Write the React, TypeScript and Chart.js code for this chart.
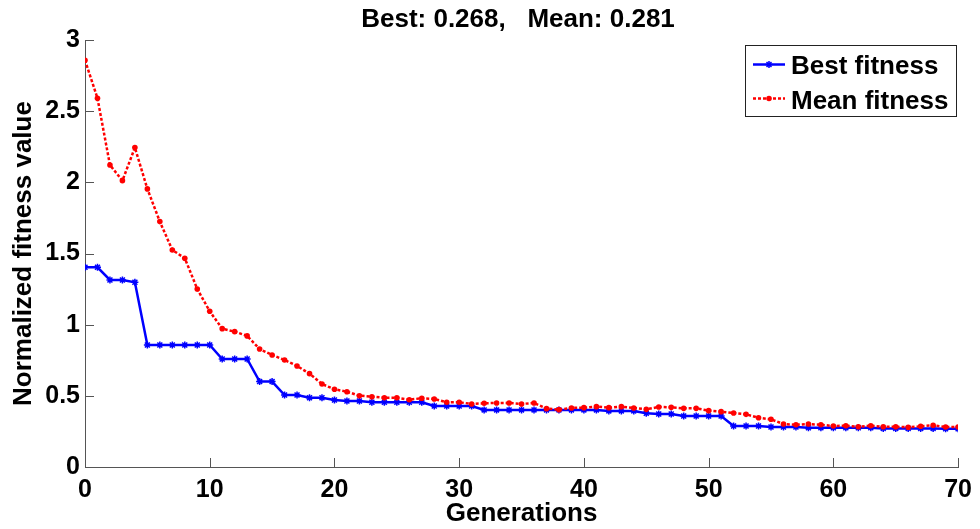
import React, { useEffect, useRef } from "react";
import { Chart, registerables } from "chart.js";

Chart.register(...registerables);

const generations: number[] = Array.from({ length: 71 }, (_, i) => i);

const bestFitness: number[] = [
  1.403, 1.403, 1.314, 1.314, 1.298, 0.857, 0.857, 0.857, 0.857, 0.857,
  0.857, 0.759, 0.759, 0.759, 0.6, 0.6, 0.506, 0.506, 0.487, 0.487,
  0.471, 0.464, 0.464, 0.455, 0.455, 0.455, 0.455, 0.455, 0.429, 0.429,
  0.429, 0.429, 0.401, 0.401, 0.401, 0.401, 0.401, 0.401, 0.401, 0.401,
  0.401, 0.401, 0.394, 0.394, 0.394, 0.377, 0.372, 0.372, 0.358, 0.358,
  0.358, 0.358, 0.288, 0.288, 0.288, 0.281, 0.281, 0.281, 0.276, 0.276,
  0.276, 0.276, 0.276, 0.276, 0.271, 0.271, 0.271, 0.271, 0.271, 0.268,
  0.268,
];

const meanFitness: number[] = [
  2.858, 2.591, 2.122, 2.012, 2.244, 1.954, 1.724, 1.525, 1.467, 1.251,
  1.094, 0.972, 0.951, 0.921, 0.829, 0.787, 0.752, 0.71, 0.656, 0.583,
  0.546, 0.529, 0.501, 0.494, 0.487, 0.487, 0.473, 0.483, 0.478, 0.455,
  0.455, 0.443, 0.448, 0.45, 0.45, 0.443, 0.45, 0.41, 0.403, 0.415,
  0.417, 0.424, 0.417, 0.424, 0.415, 0.405, 0.422, 0.419, 0.412, 0.412,
  0.396, 0.389, 0.379, 0.37, 0.346, 0.335, 0.302, 0.297, 0.302, 0.297,
  0.288, 0.29, 0.283, 0.29, 0.283, 0.283, 0.279, 0.286, 0.293, 0.281,
  0.281,
];

const xTicks: number[] = [0, 10, 20, 30, 40, 50, 60, 70];
const yTicks: number[] = [0, 0.5, 1, 1.5, 2, 2.5, 3];

const titleText = "Best: 0.268,   Mean: 0.281";
const legendLabels: string[] = ["Best fitness", "Mean fitness"];
const xLabel = "Generations";
const yLabel = "Normalized fitness value";

const FONT = "'Liberation Sans', Arial, Helvetica, sans-serif";
const AXIS_COLOR = "#555555";

function drawStar(ctx: CanvasRenderingContext2D, x: number, y: number, r: number) {
  ctx.beginPath();
  ctx.moveTo(x - r, y);
  ctx.lineTo(x + r, y);
  ctx.moveTo(x, y - r);
  ctx.lineTo(x, y + r);
  const d = r * 0.707;
  ctx.moveTo(x - d, y - d);
  ctx.lineTo(x + d, y + d);
  ctx.moveTo(x - d, y + d);
  ctx.lineTo(x + d, y - d);
  ctx.stroke();
}

const decorPlugin = {
  id: "decor",
  afterDraw(chart: any) {
    const ctx: CanvasRenderingContext2D = chart.ctx;
    const xs = chart.scales.x;
    const ys = chart.scales.y;
    const area = chart.chartArea;
    ctx.save();
    // inward ticks
    ctx.strokeStyle = AXIS_COLOR;
    ctx.lineWidth = 1;
    ctx.beginPath();
    xTicks.forEach((t) => {
      const px = Math.round(xs.getPixelForValue(t)) + 0.5;
      ctx.moveTo(px, area.bottom);
      ctx.lineTo(px, area.bottom - 9);
    });
    yTicks.forEach((t) => {
      const py = Math.round(ys.getPixelForValue(t)) + 0.5;
      ctx.moveTo(area.left, py);
      ctx.lineTo(area.left + 9, py);
    });
    ctx.stroke();

    // title
    ctx.fillStyle = "#000";
    ctx.font = `bold 26px ${FONT}`;
    ctx.textAlign = "center";
    ctx.textBaseline = "alphabetic";
    ctx.fillText(titleText, 518, 27);

    // legend
    const bx = 745.5, by = 45.5, bw = 211, bh = 71;
    ctx.fillStyle = "#fff";
    ctx.fillRect(bx, by, bw, bh);
    ctx.strokeStyle = "#222";
    ctx.lineWidth = 1;
    ctx.strokeRect(bx, by, bw, bh);

    // blue sample
    ctx.strokeStyle = "#0000ff";
    ctx.lineWidth = 2.5;
    ctx.setLineDash([]);
    ctx.beginPath();
    ctx.moveTo(753, 64.5);
    ctx.lineTo(785, 64.5);
    ctx.stroke();
    ctx.lineWidth = 1.5;
    drawStar(ctx, 769, 64.5, 3.5);

    // red sample
    ctx.strokeStyle = "#ff0000";
    ctx.lineWidth = 2.5;
    ctx.setLineDash([3, 2]);
    ctx.beginPath();
    ctx.moveTo(753, 98.5);
    ctx.lineTo(785, 98.5);
    ctx.stroke();
    ctx.setLineDash([]);
    ctx.fillStyle = "#ff0000";
    ctx.beginPath();
    ctx.arc(769, 98.5, 2.8, 0, Math.PI * 2);
    ctx.fill();

    ctx.fillStyle = "#000";
    ctx.font = `bold 26px ${FONT}`;
    ctx.textAlign = "left";
    ctx.fillText(legendLabels[0], 791, 73.5);
    ctx.fillText(legendLabels[1], 791, 108.5);
    ctx.restore();
  },
};

export default function App() {
  const canvasRef = useRef<HTMLCanvasElement | null>(null);

  useEffect(() => {
    document.body.style.margin = "0";
    const canvas = canvasRef.current;
    if (!canvas) return;
    const chart = new Chart(canvas, {
      type: "line",
      data: {
        datasets: [
          {
            label: legendLabels[0],
            data: generations.map((g, i) => ({ x: g, y: bestFitness[i] })),
            borderColor: "#0000ff",
            backgroundColor: "#0000ff",
            borderWidth: 2.5,
            pointStyle: "star",
            pointRadius: 3.5,
            pointBorderWidth: 1.5,
            pointBorderColor: "#0000ff",
            tension: 0,
            order: 2,
          },
          {
            label: legendLabels[1],
            data: generations.map((g, i) => ({ x: g, y: meanFitness[i] })),
            borderColor: "#ff0000",
            backgroundColor: "#ff0000",
            borderWidth: 2.5,
            borderDash: [3, 2],
            pointStyle: "circle",
            pointRadius: 2.8,
            pointBorderWidth: 0,
            pointBackgroundColor: "#ff0000",
            tension: 0,
            order: 1,
          },
        ],
      },
      plugins: [decorPlugin],
      options: {
        animation: false,
        responsive: false,
        maintainAspectRatio: false,
        devicePixelRatio: 1,
        layout: { padding: { left: 0, right: 18, top: 40, bottom: 0 } },
        plugins: {
          legend: { display: false },
          title: { display: false },
          tooltip: { enabled: false },
        },
        scales: {
          x: {
            type: "linear",
            min: 0,
            max: 70,
            afterFit: (s: any) => {
              s.height = 62;
            },
            afterBuildTicks: (s: any) => {
              s.ticks = xTicks.map((v) => ({ value: v }));
            },
            grid: { display: false, drawTicks: false },
            border: { display: true, color: AXIS_COLOR, width: 1 },
            ticks: {
              color: "#000",
              padding: 8,
              maxRotation: 0,
              autoSkip: false,
              font: { family: FONT, size: 25, weight: "bold" },
            },
            title: {
              display: true,
              text: xLabel,
              color: "#000",
              padding: { top: 0, bottom: 0 },
              font: { family: FONT, size: 26, weight: "bold", lineHeight: 1.2 },
            },
          },
          y: {
            type: "linear",
            min: 0,
            max: 3,
            afterFit: (s: any) => {
              s.width = 85;
            },
            afterBuildTicks: (s: any) => {
              s.ticks = yTicks.map((v) => ({ value: v }));
            },
            grid: { display: false, drawTicks: false },
            border: { display: true, color: AXIS_COLOR, width: 1 },
            ticks: {
              color: "#000",
              padding: 5,
              autoSkip: false,
              font: { family: FONT, size: 25, weight: "bold" },
              callback: (v: any) => String(v),
            },
            title: {
              display: true,
              text: yLabel,
              color: "#000",
              padding: { top: 8, bottom: 0 },
              font: { family: FONT, size: 26, weight: "bold", lineHeight: 1.2 },
            },
          },
        },
      },
    });
    return () => chart.destroy();
  }, []);

  return (
    <div style={{ position: "fixed", left: 0, top: 0, width: 980, height: 529, background: "#fff" }}>
      <canvas ref={canvasRef} width={980} height={529} style={{ width: 980, height: 529, display: "block" }} />
    </div>
  );
}
